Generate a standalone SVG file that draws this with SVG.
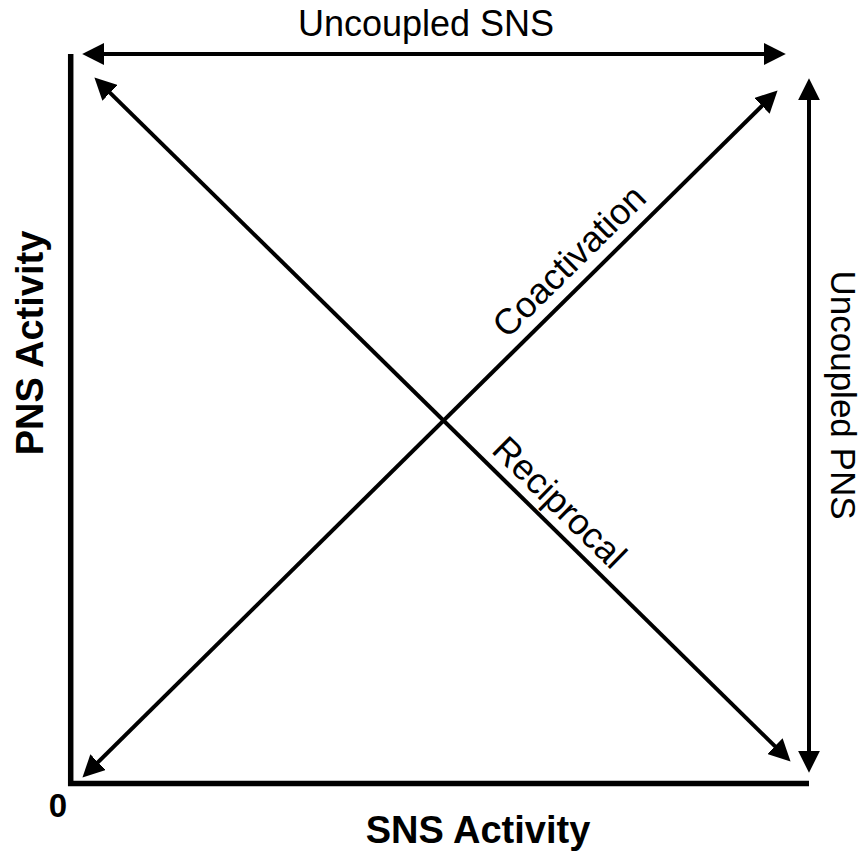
<svg xmlns="http://www.w3.org/2000/svg" width="868" height="854" viewBox="0 0 868 854">
<style>
.ln{stroke:#000;stroke-width:4;fill:none;marker-start:url(#ah);marker-end:url(#ah)}
.ax{stroke:#000;stroke-width:5.5;fill:none;stroke-linejoin:miter;stroke-linecap:butt}
.t{font-family:"Liberation Sans",Arial,sans-serif;fill:#000}
.r{font-size:36px}
.b{font-size:38px;font-weight:bold}
</style>
<defs>
<marker id="ah" markerUnits="userSpaceOnUse" markerWidth="22" markerHeight="22" viewBox="0 0 20 20" refX="12" refY="10" orient="auto-start-reverse">
<path d="M0,0 L20,10 L0,20 z" fill="#000"/>
</marker>
</defs>
<rect width="868" height="854" fill="#fff"/>
<g id="axes">
<path class="ax" d="M70.7,54 V783.5 H809"/>
</g>
<g id="connectors">
<line class="ln" x1="91" y1="54" x2="777" y2="54"/>
<line class="ln" x1="809" y1="87" x2="809" y2="764"/>
<line class="ln" x1="100.7" y1="83.6" x2="784.3" y2="755.4"/>
<line class="ln" x1="88.7" y1="771.4" x2="771.3" y2="96.6"/>
</g>
<g id="label-uncoupled-sns"><text class="t r" x="426" y="36" text-anchor="middle">Uncoupled SNS</text></g>
<g id="label-uncoupled-pns"><text class="t" font-size="35" transform="translate(831,395) rotate(90)" text-anchor="middle">Uncoupled PNS</text></g>
<g id="label-coactivation"><text class="t r" transform="translate(577.7,269.8) rotate(-44.67)" text-anchor="middle">Coactivation</text></g>
<g id="label-reciprocal"><text class="t r" transform="translate(551,511) rotate(44.5)" text-anchor="middle">Reciprocal</text></g>
<g id="label-sns-activity"><text class="t b" x="478" y="843" text-anchor="middle">SNS Activity</text></g>
<g id="label-pns-activity"><text class="t b" transform="translate(43,343) rotate(-90)" text-anchor="middle">PNS Activity</text></g>
<g id="label-zero"><text class="t" x="58" y="817" text-anchor="middle" font-size="33" font-weight="bold">0</text></g>
</svg>
